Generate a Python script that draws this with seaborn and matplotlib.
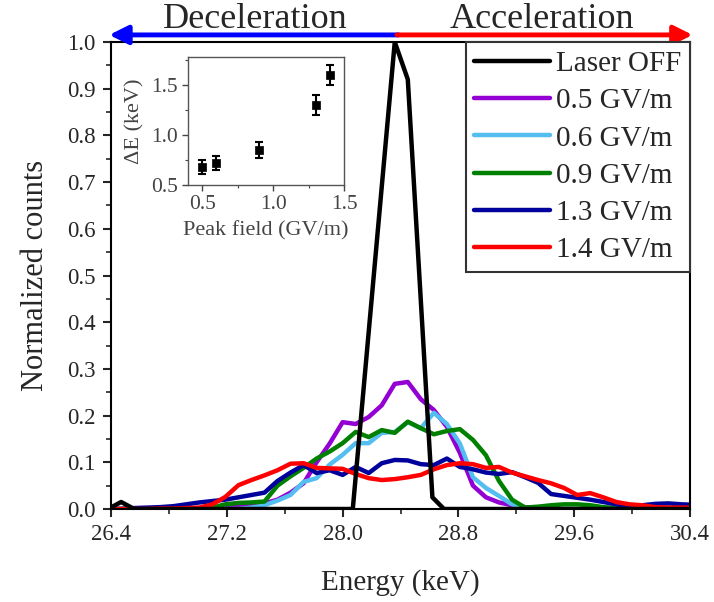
import numpy as np
import pandas as pd
import matplotlib
matplotlib.use("Agg")
import matplotlib.pyplot as plt
from matplotlib.colors import same_color
from matplotlib.ticker import MultipleLocator, FormatStrFormatter
import seaborn as sns

# energy channels (keV) shared by the laser-on spectra
energy = [26.38, 26.47, 26.56, 26.65, 26.74, 26.83, 26.92, 27.01, 27.10, 27.19,
          27.28, 27.37, 27.46, 27.55, 27.64, 27.73, 27.82, 27.91, 28.00, 28.09,
          28.18, 28.27, 28.36, 28.45, 28.54, 28.63, 28.72, 28.81, 28.90, 28.99,
          29.08, 29.17, 29.26, 29.35, 29.44, 29.53, 29.62, 29.71, 29.80, 29.89,
          29.98, 30.07, 30.16, 30.25, 30.34, 30.43]

laser_off_energy = [26.38, 26.47, 26.56, 28.07, 28.36, 28.45, 28.62, 28.70, 30.43]
laser_off_counts = [0.0, 0.015, 0.0, 0.0, 1.0, 0.92, 0.025, 0.0, 0.0]

counts_05 = [0, 0, 0, 0, 0, 0, 0, 0, 0, 0.002,
             0.005, 0.008, 0.012, 0.02, 0.035, 0.055, 0.10, 0.14, 0.186, 0.182,
             0.197, 0.222, 0.268, 0.272, 0.235, 0.212, 0.176, 0.12, 0.05, 0.025,
             0.014, 0.008, 0.004, 0.002, 0.001, 0, 0, 0, 0, 0,
             0, 0, 0, 0, 0, 0]
counts_06 = [0, 0, 0, 0, 0, 0, 0, 0, 0, 0,
             0, 0.003, 0.008, 0.018, 0.03, 0.058, 0.066, 0.095, 0.116, 0.141,
             0.141, 0.163, 0.165, 0.186, 0.173, 0.206, 0.182, 0.14, 0.068, 0.045,
             0.028, 0.01, 0.002, 0, 0, 0, 0, 0, 0, 0,
             0, 0, 0, 0, 0, 0]
counts_09 = [0, 0, 0, 0, 0, 0, 0, 0, 0.003, 0.01,
             0.013, 0.014, 0.016, 0.05, 0.07, 0.088, 0.108, 0.123, 0.141, 0.165,
             0.154, 0.169, 0.163, 0.187, 0.173, 0.16, 0.167, 0.171, 0.148, 0.115,
             0.06, 0.02, 0.003, 0.005, 0.008, 0.01, 0.01, 0.008, 0.004, 0.002,
             0, 0, 0, 0, 0, 0]
counts_13 = [0, 0, 0.002, 0.003, 0.004, 0.006, 0.01, 0.014, 0.017, 0.02,
             0.025, 0.03, 0.035, 0.06, 0.078, 0.094, 0.077, 0.083, 0.073, 0.09,
             0.077, 0.098, 0.105, 0.104, 0.096, 0.094, 0.108, 0.09, 0.085, 0.078,
             0.075, 0.079, 0.068, 0.056, 0.032, 0.028, 0.024, 0.02, 0.015, 0.01,
             0.005, 0.008, 0.011, 0.012, 0.01, 0.009]
counts_14 = [0, 0, 0, 0, 0.001, 0.001, 0.002, 0.003, 0.01, 0.026,
             0.051, 0.062, 0.072, 0.083, 0.097, 0.098, 0.088, 0.087, 0.086, 0.075,
             0.066, 0.062, 0.064, 0.068, 0.073, 0.085, 0.094, 0.098, 0.096, 0.088,
             0.09, 0.078, 0.07, 0.062, 0.055, 0.045, 0.03, 0.034, 0.025, 0.015,
             0.01, 0.008, 0.004, 0.003, 0.003, 0.003]

labels = ["Laser OFF", "0.5 GV/m", "0.6 GV/m", "0.9 GV/m", "1.3 GV/m", "1.4 GV/m"]
colors = ["black", "#9400D3", "#55BEF0", "#008000", "#00009C", "#FF0000"]

# inset: energy spread vs peak field
peak_field = [0.5, 0.6, 0.9, 1.3, 1.4]
delta_e = [0.68, 0.72, 0.85, 1.30, 1.60]
delta_e_err = [0.07, 0.07, 0.08, 0.10, 0.10]

frames = [pd.DataFrame({"Energy": laser_off_energy, "Counts": laser_off_counts, "Field": labels[0]})]
for lab, c in zip(labels[1:], [counts_05, counts_06, counts_09, counts_13, counts_14]):
    frames.append(pd.DataFrame({"Energy": energy, "Counts": c, "Field": lab}))
df = pd.concat(frames, ignore_index=True)

sns.set_theme(style="ticks")
plt.rcParams["font.family"] = ["Liberation Serif", "DejaVu Serif"]

fig = plt.figure(figsize=(7.14, 6.02), dpi=100)
ax = fig.add_axes([0.1555, 0.1545, 0.811, 0.7757])

sns.lineplot(data=df, x="Energy", y="Counts", hue="Field", hue_order=labels,
             palette=colors, estimator=None, sort=False, lw=3.2, ax=ax)
for line in ax.lines:
    if same_color(line.get_color(), "black"):
        line.set_zorder(3)

ax.set_xlim(26.4, 30.4)
ax.set_ylim(0, 1.0)
ax.xaxis.set_major_locator(MultipleLocator(0.8))
ax.xaxis.set_minor_locator(MultipleLocator(0.4))
ax.yaxis.set_major_locator(MultipleLocator(0.1))
ax.yaxis.set_minor_locator(MultipleLocator(0.05))
ax.xaxis.set_major_formatter(FormatStrFormatter("%.1f"))
ax.yaxis.set_major_formatter(FormatStrFormatter("%.1f"))
ax.tick_params(which="major", direction="out", length=6, width=1.5, labelsize=16.5, pad=5)
ax.tick_params(which="minor", direction="out", length=3.5, width=1.2)
for s in ax.spines.values():
    s.set_linewidth(1.5)
    s.set_color("black")
ax.set_xlabel("Energy (keV)", fontsize=21, labelpad=17)
ax.set_ylabel("Normalized counts", fontsize=22, labelpad=12)

sns.move_legend(ax, "upper right", bbox_to_anchor=(1.0, 1.0), borderaxespad=0,
                title=None, fontsize=21, handlelength=2.6, handletextpad=0.2,
                labelspacing=0.37, borderpad=0.3, frameon=True, fancybox=False,
                framealpha=1, edgecolor="#333333")
leg = ax.get_legend()
leg.get_frame().set_linewidth(1.5)
for h in leg.legend_handles:
    h.set_linewidth(3.2)

# inset
axin = fig.add_axes([0.2633, 0.6927, 0.2185, 0.2126])
axin.errorbar(peak_field, delta_e, yerr=delta_e_err, fmt="none", ecolor="black",
              elinewidth=1.5, capsize=3, capthick=1.5)
sns.scatterplot(x=peak_field, y=delta_e, marker="s", color="black", s=40,
                edgecolor="black", ax=axin, zorder=3)
axin.set_xlim(0.4, 1.5)
axin.set_ylim(0.5, 1.78)
axin.xaxis.set_major_locator(MultipleLocator(0.5))
axin.xaxis.set_minor_locator(MultipleLocator(0.25))
axin.yaxis.set_major_locator(MultipleLocator(0.5))
axin.yaxis.set_minor_locator(MultipleLocator(0.25))
axin.xaxis.set_major_formatter(FormatStrFormatter("%.1f"))
axin.yaxis.set_major_formatter(FormatStrFormatter("%.1f"))
axin.tick_params(which="major", direction="out", length=4, width=1, labelsize=15.5,
                 colors="#444444", pad=3)
axin.tick_params(which="minor", direction="out", length=2.5, width=0.8, colors="#444444")
for s in axin.spines.values():
    s.set_linewidth(1)
    s.set_color("#555555")
axin.set_xlabel("Peak field (GV/m)", fontsize=16, color="#444444", labelpad=5)
axin.set_ylabel("\u0394E (keV)", fontsize=16, color="#444444", labelpad=5)

# direction arrows above the plot
ax.annotate("", xy=(0.153, 0.942), xytext=(0.558, 0.942), xycoords="figure fraction",
            arrowprops=dict(arrowstyle="-|>", color="blue", lw=3.5, mutation_scale=28,
                            shrinkA=0, shrinkB=0))
ax.annotate("", xy=(0.970, 0.942), xytext=(0.556, 0.942), xycoords="figure fraction",
            arrowprops=dict(arrowstyle="-|>", color="red", lw=3.5, mutation_scale=28,
                            shrinkA=0, shrinkB=0))
fig.text(0.357, 0.968, "Deceleration", ha="center", va="center", fontsize=26)
fig.text(0.759, 0.968, "Acceleration", ha="center", va="center", fontsize=26)

fig.savefig("out.png", dpi=100)
